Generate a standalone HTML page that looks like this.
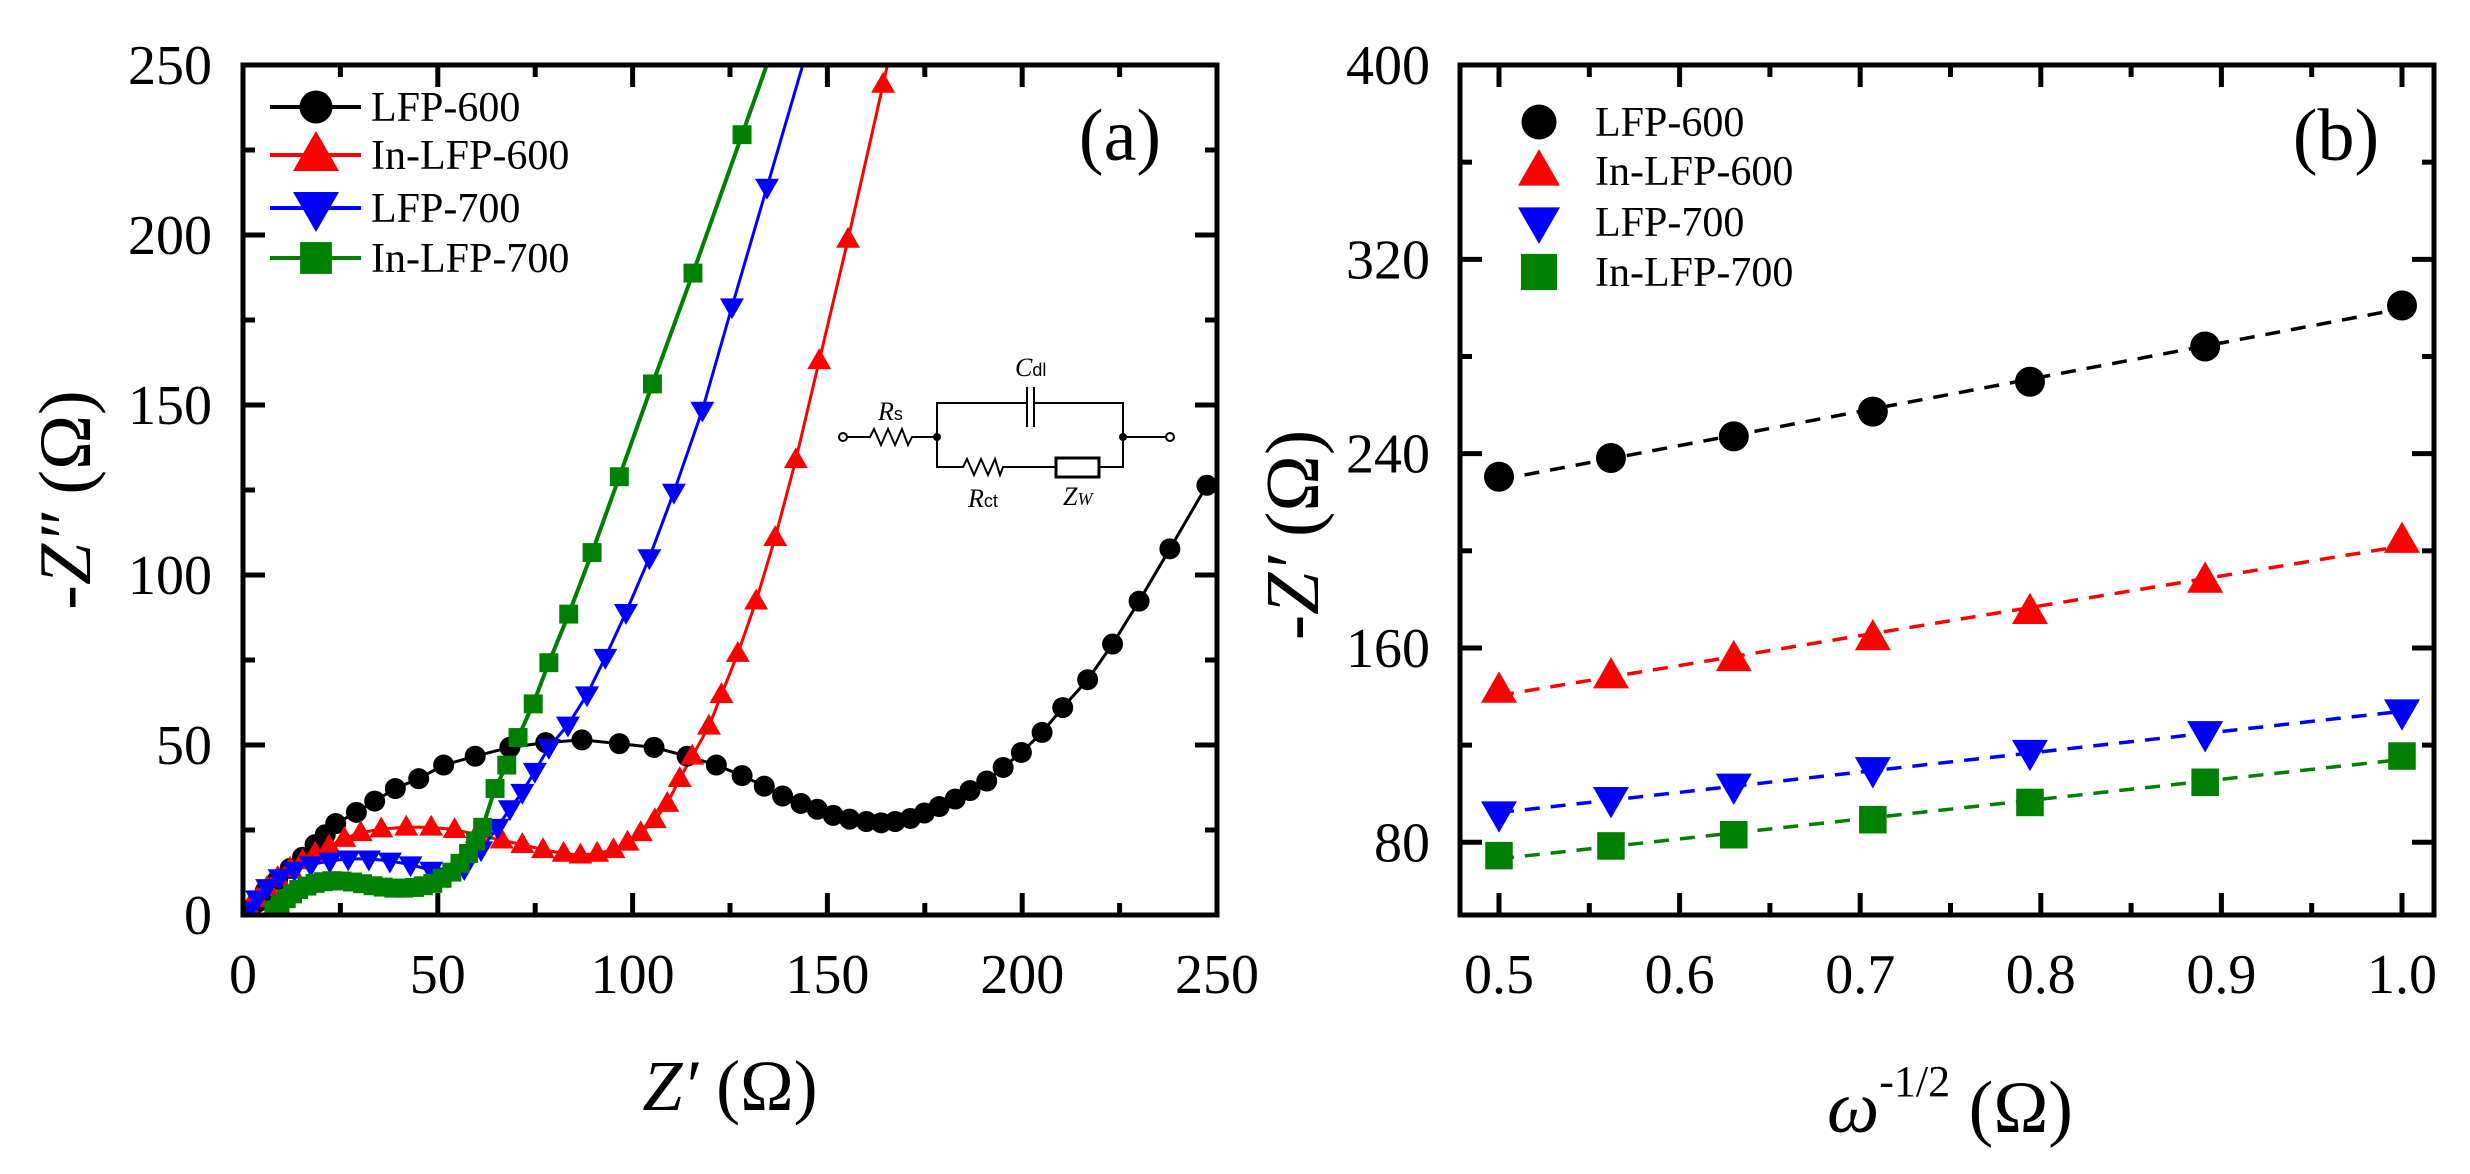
<!DOCTYPE html>
<html><head><meta charset="utf-8"><style>
html,body{margin:0;padding:0;background:#fff;}
svg{display:block;font-family:"Liberation Serif","Times New Roman",serif;}
</style></head><body>
<svg id="fig" width="2470" height="1174" viewBox="0 0 2470 1174" xmlns="http://www.w3.org/2000/svg">
<g id="pa"></g>
<g id="pb"></g>
</svg>
<script>
// ---- Panel (a) Nyquist data ----
const a600x=[1.5,3.6,5.7,8.9,12.1,15.3,18.5,21.1,23.8,29.1,33.8,39.1,45.1,51.5,59.6,68.5,77.7,87.0,96.6,105.5,114.0,121.5,128.1,133.8,138.5,143.2,147.4,151.5,155.7,160.0,163.8,167.4,171.3,174.9,178.7,182.8,186.6,190.9,195.1,199.8,205.1,210.4,216.8,223.2,230.0,237.9,247.4];
const a600y=[1.5,3.7,7.0,10.4,13.7,17.0,20.7,23.6,26.9,30.2,33.5,37.2,40.1,44.1,46.7,49.3,50.7,51.5,50.4,49.3,46.7,44.1,41.0,37.9,35.0,32.8,31.1,29.3,28.2,27.5,27.1,27.5,28.4,30.0,31.9,34.1,36.6,39.4,43.4,47.8,53.7,61.0,69.2,79.7,92.3,107.7,126.4];
const aIn600x=[1.5,3.6,6.2,8.9,12.1,15.3,18.5,22.1,26.0,30.2,35.5,41.9,48.3,54.3,60.0,66.4,71.7,77.0,82.3,86.6,90.9,95.1,98.7,102.1,105.7,108.9,112.1,115.3,119.6,122.8,127.0,131.7,136.6,141.9,147.9,155.3,164.3];
const aIn600y=[2.2,4.8,8.1,11.0,13.7,15.9,18.1,20.3,22.5,24.2,25.3,25.8,25.8,25.1,23.6,22.0,20.7,19.2,18.1,17.6,18.1,19.2,21.4,24.2,28.0,32.8,40.1,46.7,55.5,64.8,76.9,92.3,111.0,133.9,163.0,198.7,244.3];
const a700x=[1.5,3.6,6.2,9.4,13.2,17.4,22.3,27.0,32.3,37.7,43.0,48.3,52.6,56.8,61.1,65.3,68.5,71.7,74.9,78.5,83.4,88.3,93.0,98.3,104.3,110.6,117.9,125.5,134.5];
const a700y=[1.5,4.8,8.1,11.0,13.2,14.8,15.9,16.5,16.5,15.9,14.8,13.2,11.5,13.7,19.2,25.8,31.3,36.1,42.3,49.3,55.9,64.8,75.8,89.0,105.1,124.4,148.5,178.9,214.1];
const aIn700x=[7.9,9.5,11.1,12.7,14.3,16.4,18.5,20.6,22.8,25.4,28.1,30.7,33.4,36.0,38.7,41.3,44.0,46.3,48.7,51.1,53.6,55.7,57.9,59.7,61.5,64.7,67.7,70.6,74.5,78.5,83.6,89.6,96.6,105.1,115.5,128.1];
const aIn700y=[1.5,3.2,4.8,6.2,7.5,8.5,9.3,9.8,10.1,10.0,9.7,9.2,8.6,8.2,7.9,7.9,8.1,8.6,9.3,10.8,12.6,15.2,18.1,21.8,25.8,37.2,44.1,52.2,62.1,74.2,88.5,106.6,128.9,156.2,188.8,229.5];
const aTicksX=[0,50,100,150,200,250];
const aTicksY=[0,50,100,150,200,250];
// ---- Panel (b) data ----
const bX=[0.5,0.562,0.63,0.707,0.794,0.891,1.0];
const b600=[230.5,238.2,247.1,257.3,269.6,284.1,301.0];
const bIn600=[142.6,148.5,155.6,164.2,175.0,187.9,204.3];
const b700=[91.7,97.6,103.1,109.9,117.0,124.7,133.7];
const bIn700=[74.5,78.5,83.1,89.3,96.4,104.7,115.5];
const bTicksX=[0.5,0.6,0.7,0.8,0.9,1.0];
const bTickLabX=["0.5","0.6","0.7","0.8","0.9","1.0"];
const bTicksY=[80,160,240,320,400];
const names=["LFP-600","In-LFP-600","LFP-700","In-LFP-700"];
const colors=["#000","#ff0000","#0000ff","#008000"];

const NS="http://www.w3.org/2000/svg";
function mk(parent,tag,attrs,name,text){
  const e=document.createElementNS(NS,tag);
  for(const k in attrs)e.setAttribute(k,attrs[k]);
  
  
  if(text!==undefined)e.textContent=text;
  parent.appendChild(e);return e;
}
function marker(g,type,cx,cy,s,col,name){
  if(type===0)return mk(g,'circle',{cx:cx,cy:cy,r:s/2,fill:col},name);
  if(type===1){const h=s*0.87;return mk(g,'polygon',{points:`${cx},${cy-h*0.6} ${cx-s/2},${cy+h*0.4} ${cx+s/2},${cy+h*0.4}`,fill:col},name);}
  if(type===2){const h=s*0.87;return mk(g,'polygon',{points:`${cx},${cy+h*0.6} ${cx-s/2},${cy-h*0.4} ${cx+s/2},${cy-h*0.4}`,fill:col},name);}
  return mk(g,'rect',{x:cx-s*0.43,y:cy-s*0.43,width:s*0.86,height:s*0.86,fill:col},name);
}
function frame(g,L,R,T,B,xMaj,xMin,yMaj,yMin,sx,sy,name){
  for(const v of xMin){const x=sx(v);
    mk(g,'line',{x1:x,x2:x,y1:B,y2:B-12,stroke:'#000','stroke-width':5},'x-minor-tick');
    mk(g,'line',{x1:x,x2:x,y1:T,y2:T+12,stroke:'#000','stroke-width':5},'x-minor-tick-top');}
  for(const v of xMaj){const x=sx(v);
    mk(g,'line',{x1:x,x2:x,y1:B,y2:B-22,stroke:'#000','stroke-width':5},'x-major-tick');
    mk(g,'line',{x1:x,x2:x,y1:T,y2:T+22,stroke:'#000','stroke-width':5},'x-major-tick-top');}
  for(const v of yMin){const y=sy(v);
    mk(g,'line',{x1:L,x2:L+12,y1:y,y2:y,stroke:'#000','stroke-width':5},'y-minor-tick');
    mk(g,'line',{x1:R,x2:R-12,y1:y,y2:y,stroke:'#000','stroke-width':5},'y-minor-tick-right');}
  for(const v of yMaj){const y=sy(v);
    mk(g,'line',{x1:L,x2:L+22,y1:y,y2:y,stroke:'#000','stroke-width':5},'y-major-tick');
    mk(g,'line',{x1:R,x2:R-22,y1:y,y2:y,stroke:'#000','stroke-width':5},'y-major-tick-right');}
  mk(g,'rect',{x:L,y:T,width:R-L,height:B-T,fill:'none',stroke:'#000','stroke-width':5},name);
}

// ===== Panel A =====
(function(){
  const g=document.getElementById('pa');
  const L=243,R=1217,T=65,B=915;
  const sx=v=>L+(v-0)/250*(R-L), sy=v=>B-(v-0)/250*(B-T);
  mk(document.getElementById('fig'),'defs',{},'defs').innerHTML=`<clipPath id="ca"><rect x="${L}" y="${T}" width="${R-L}" height="${B-T}"/></clipPath><clipPath id="cb"><rect x="1460" y="65" width="974" height="850"/></clipPath>`;
  const xs=[a600x,aIn600x,a700x,aIn700x], ys=[a600y,aIn600y,a700y,aIn700y];
  const plot=mk(g,'g',{'clip-path':'url(#ca)'},'plot-area-a');
  for(let s=0;s<4;s++){
    const pts=xs[s].map((x,i)=>sx(x)+','+sy(ys[s][i])).join(' ');
    mk(plot,'polyline',{points:pts,fill:'none',stroke:colors[s],'stroke-width':s===3?4:3},'series-line-'+names[s].toLowerCase());
  }
  for(let s=1;s<4;s++){
    const n=xs[s].length,x1=xs[s][n-2],y1=ys[s][n-2],x2=xs[s][n-1],y2=ys[s][n-1];
    const xt=x2+(260-y2)*(x2-x1)/(y2-y1);
    mk(plot,'line',{x1:sx(x2),y1:sy(y2),x2:sx(xt),y2:sy(260),stroke:colors[s],'stroke-width':s===3?4:3},'series-line-ext');
  }
  const sizes=[21,24,24,22];
  for(let s=0;s<4;s++){
    xs[s].forEach((x,i)=>marker(plot,s,sx(x),sy(ys[s][i]),sizes[s],colors[s],'point-'+names[s].toLowerCase()));
  }
  frame(g,L,R,T,B,aTicksX,[25,75,125,175,225],aTicksY,[25,75,125,175,225],sx,sy,'axes-frame-a');
  aTicksX.forEach(v=>mk(g,'text',{x:sx(v),y:993,'font-size':56,'text-anchor':'middle'},'x-tick-label',String(v)));
  aTicksY.forEach(v=>mk(g,'text',{x:212,y:sy(v)+19,'font-size':56,'text-anchor':'end'},'y-tick-label',String(v)));
  const xt=mk(g,'text',{x:730,y:1110,'font-size':72,'text-anchor':'middle'},'x-axis-title');
  xt.innerHTML='<tspan font-style="italic">Z′</tspan> (Ω)';
  const yt=mk(g,'text',{x:0,y:0,'font-size':74,'text-anchor':'middle',transform:'translate(90,500) rotate(-90)'},'y-axis-title');
  yt.innerHTML='<tspan font-style="italic">-Z″</tspan> (Ω)';
  mk(g,'text',{x:1120,y:160,'font-size':74,'text-anchor':'middle'},'panel-label-a','(a)');
  const ly=[107,155,208,258];
  const lsz=[33,46,46,37];
  for(let s=0;s<4;s++){
    mk(g,'line',{x1:270,x2:361,y1:ly[s],y2:ly[s],stroke:colors[s],'stroke-width':4},'legend-line');
    marker(g,s,316,ly[s],lsz[s],colors[s],'legend-marker');
    mk(g,'text',{x:371,y:ly[s]+14,'font-size':42},'legend-label',names[s]);
  }
  // circuit inset
  const c=mk(g,'g',{stroke:'#000','stroke-width':2,fill:'none'},'circuit-inset');
  mk(c,'circle',{cx:843,cy:437,r:4,fill:'#fff'},'terminal-left');
  mk(c,'polyline',{points:'847,437 870,437 874,429 881,445 888,429 895,445 902,429 908,445 912,437 937,437'},'resistor-rs');
  mk(c,'polyline',{points:'937,437 937,403 1027,403'},'wire-top-left');
  mk(c,'line',{x1:1027,y1:387,x2:1027,y2:427},'cap-plate-1');
  mk(c,'line',{x1:1034,y1:387,x2:1034,y2:427},'cap-plate-2');
  mk(c,'polyline',{points:'1034,403 1123,403 1123,467 1099,467'},'wire-top-right');
  mk(c,'polyline',{points:'937,437 937,467 963,467 967,459 974,475 981,459 988,475 995,459 1000,475 1003,467 1056,467'},'resistor-rct');
  mk(c,'rect',{x:1056,y:458,width:43,height:19,'stroke-width':3},'warburg-box');
  mk(c,'line',{x1:1123,y1:437,x2:1166,y2:437},'wire-right');
  mk(c,'circle',{cx:1170,cy:437,r:4,fill:'#fff'},'terminal-right');
  mk(c,'circle',{cx:937,cy:437,r:3,fill:'#000'},'node-left');
  mk(c,'circle',{cx:1123,cy:437,r:3,fill:'#000'},'node-right');
  const t1=mk(g,'text',{x:878,y:420,'font-size':26},'label-rs');t1.innerHTML='<tspan font-style="italic">R</tspan><tspan font-size="18" font-family="Liberation Sans">s</tspan>';
  const t2=mk(g,'text',{x:1015,y:376,'font-size':26},'label-cdl');t2.innerHTML='<tspan font-style="italic">C</tspan><tspan font-size="18" font-family="Liberation Sans">dl</tspan>';
  const t3=mk(g,'text',{x:968,y:507,'font-size':26},'label-rct');t3.innerHTML='<tspan font-style="italic">R</tspan><tspan font-size="18" font-family="Liberation Sans">ct</tspan>';
  const t4=mk(g,'text',{x:1063,y:505,'font-size':26},'label-zw');t4.innerHTML='<tspan font-style="italic">Z</tspan><tspan font-size="18" font-style="italic">W</tspan>';
})();

// ===== Panel B =====
(function(){
  const g=document.getElementById('pb');
  const L=1460,R=2434,T=65,B=915;
  const sx=v=>1499+(v-0.5)/0.5*903, sy=v=>65+(400-v)*2.429;
  const ser=[b600,bIn600,b700,bIn700];
  const plot=mk(g,'g',{'clip-path':'url(#cb)'},'plot-area-b');
  for(let s=0;s<4;s++){
    const n=bX.length;let mx=0,my=0;bX.forEach((x,i)=>{mx+=x;my+=ser[s][i];});mx/=n;my/=n;
    let num=0,den=0;bX.forEach((x,i)=>{num+=(x-mx)*(ser[s][i]-my);den+=(x-mx)*(x-mx);});
    const k=num/den,b0=my-k*mx;
    mk(plot,'line',{x1:sx(bX[0]),y1:sy(k*bX[0]+b0),x2:sx(bX[n-1]),y2:sy(k*bX[n-1]+b0),stroke:colors[s],'stroke-width':3.5,'stroke-dasharray':'15,11'},'fit-line-'+names[s].toLowerCase());
  }
  const sizes=[30,36,36,32];
  for(let s=0;s<4;s++){
    bX.forEach((x,i)=>marker(plot,s,sx(x),sy(ser[s][i]),sizes[s],colors[s],'point-'+names[s].toLowerCase()));
  }
  const minX=[0.55,0.65,0.75,0.85,0.95], minY=[120,200,280,360];
  frame(g,L,R,T,B,bTicksX,minX,bTicksY,minY,sx,sy,'axes-frame-b');
  bTicksX.forEach((v,i)=>mk(g,'text',{x:sx(v),y:993,'font-size':56,'text-anchor':'middle'},'x-tick-label',bTickLabX[i]));
  bTicksY.forEach(v=>mk(g,'text',{x:1430,y:sy(v)+19,'font-size':56,'text-anchor':'end'},'y-tick-label',String(v)));
  const xt=mk(g,'text',{x:1950,y:1132,'font-size':74,'text-anchor':'middle'},'x-axis-title');
  xt.innerHTML='<tspan font-style="italic">ω</tspan><tspan font-size="44" dy="-36">-1/2</tspan><tspan dy="36"> (Ω)</tspan>';
  const yt=mk(g,'text',{x:0,y:0,'font-size':76,'text-anchor':'middle',transform:'translate(1318,535) rotate(-90)'},'y-axis-title');
  yt.innerHTML='<tspan font-style="italic">-Z′</tspan> (Ω)';
  mk(g,'text',{x:2336,y:160,'font-size':74,'text-anchor':'middle'},'panel-label-b','(b)');
  const ly=[122,171,222,272];
  for(let s=0;s<4;s++){
    marker(g,s,1539,ly[s],s===0?35:42,colors[s],'legend-marker');
    mk(g,'text',{x:1595,y:ly[s]+14,'font-size':42},'legend-label',names[s]);
  }
})();
</script>
</body></html>
